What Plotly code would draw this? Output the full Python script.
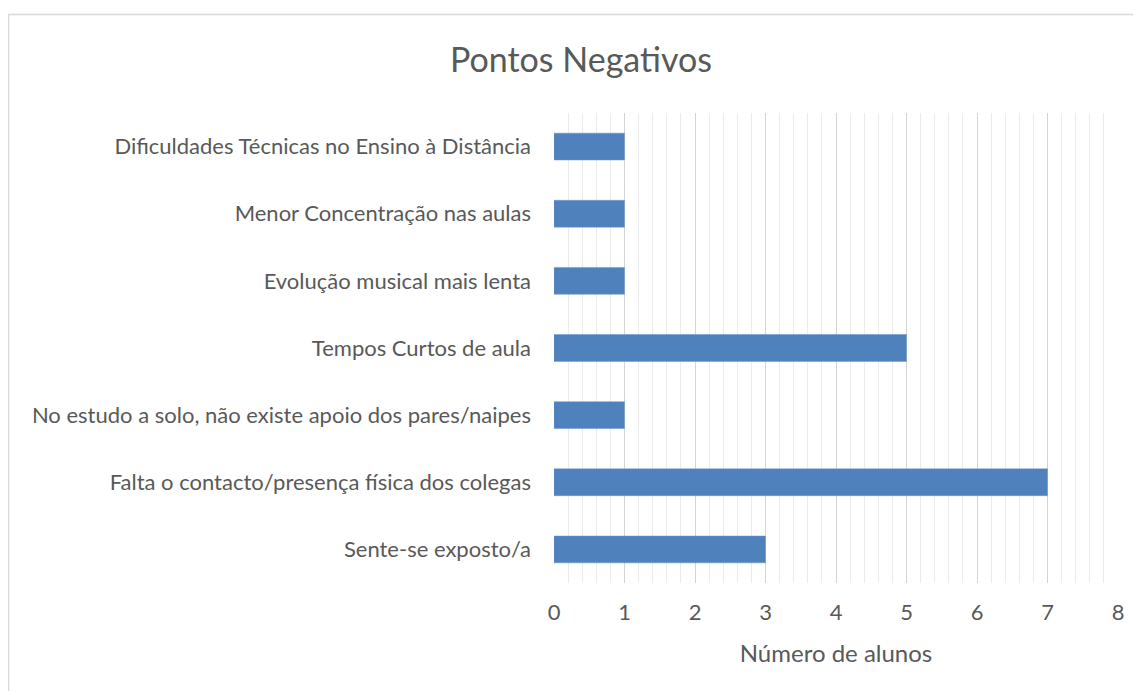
import plotly.graph_objects as go

categories = [
    "Dificuldades Técnicas no Ensino à Distância",
    "Menor Concentração nas aulas",
    "Evolução musical mais lenta",
    "Tempos Curtos de aula",
    "No estudo a solo, não existe apoio dos pares/naipes",
    "Falta o contacto/presença física dos colegas",
    "Sente-se exposto/a",
]
values = [1, 1, 1, 5, 1, 7, 3]
x_ticks = [0, 1, 2, 3, 4, 5, 6, 7, 8]

# page body has an 8px default margin, so the figure is offset by 8px
OFF = 8
W, H = 1141 - OFF, 691 - OFF
L, R, T, B = 554 - OFF, W - (1118 - OFF), 113 - OFF, H - (583 - OFF)
pw, ph = W - L - R, H - T - B

def px_x(p):
    return (p - OFF - L) / pw

def px_y(p):
    return (H - B - (p - OFF)) / ph

FONT = "Lato"
TXT = "#595959"

fig = go.Figure(go.Bar(
    x=values, y=categories, orientation="h",
    marker=dict(color="#4F81BD", line=dict(color="#6C95C8", width=0.5)),
    width=0.4,
))

fig.update_layout(
    width=W, height=H,
    margin=dict(l=L, r=R, t=T, b=B, autoexpand=False),
    paper_bgcolor="white", plot_bgcolor="white",
    showlegend=False,
    font=dict(family=FONT, color=TXT, size=22),
    title=dict(text="Pontos Negativos", x=(581 - OFF) / W, xanchor="center",
               y=1 - (60 - OFF) / H, yanchor="middle",
               font=dict(family=FONT, size=34, color=TXT)),
    xaxis=dict(
        range=[0, 8], tickvals=x_ticks, ticktext=[str(v) for v in x_ticks],
        showgrid=True, gridcolor="#D4D4D4", gridwidth=1,
        minor=dict(dtick=0.2, showgrid=True, gridcolor="#EBEBEB", gridwidth=1),
        zeroline=False, showline=False, ticks="",
        ticklabelstandoff=14,
        tickfont=dict(family=FONT, size=22, color=TXT),
        title=dict(text="Número de alunos", standoff=21,
                   font=dict(family=FONT, size=24, color=TXT)),
    ),
    yaxis=dict(
        autorange="reversed", showgrid=False, zeroline=False,
        showline=False, ticks="", ticklabelstandoff=22,
        tickfont=dict(family=FONT, size=22, color=TXT),
    ),
    shapes=[dict(type="rect", xref="paper", yref="paper",
                 x0=px_x(8.5), x1=px_x(1180), y0=px_y(14.5), y1=px_y(740),
                 line=dict(color="#D9D9D9", width=1.5), layer="below")],
)

fig.write_html("out.html")
